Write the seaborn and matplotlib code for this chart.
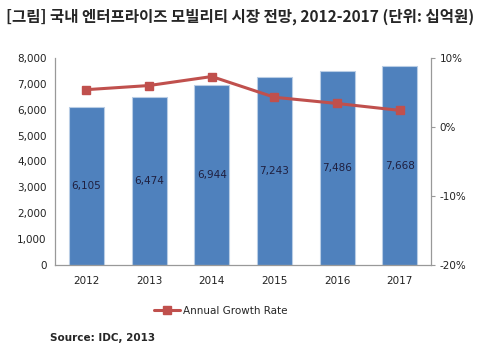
import matplotlib
matplotlib.use("Agg")
import matplotlib.pyplot as plt
import seaborn as sns
from matplotlib.ticker import FuncFormatter, PercentFormatter
from matplotlib.lines import Line2D

# data
years = ['2012', '2013', '2014', '2015', '2016', '2017']
market = [6105, 6474, 6944, 7243, 7486, 7668]
growth = [5.4, 6.0, 7.3, 4.3, 3.4, 2.4]

sns.set_style('white')
plt.rcParams['font.family'] = ['DejaVu Sans', 'Noto Sans CJK KR']
plt.rcParams['axes.unicode_minus'] = False

fig = plt.figure(figsize=(4.79, 3.53), dpi=100)
ax = fig.add_axes([0.115, 0.249, 0.785, 0.587])

sns.barplot(x=years, y=market, color='#4F81BD', saturation=1, width=0.56,
            edgecolor='#B9CDE5', linewidth=0.8, ax=ax)
for i, v in enumerate(market):
    ax.text(i, v / 2, f'{v:,}', ha='center', va='center', fontsize=7.5, color='#1F1F3F')

ax.set_ylim(0, 8000)
ax.set_yticks(range(0, 8001, 1000))
ax.yaxis.set_major_formatter(FuncFormatter(lambda v, p: f'{int(v):,}'))
ax.tick_params(axis='both', labelsize=7.5, length=0, colors='#222222', pad=6)
ax.tick_params(axis='x', pad=8)
for s in ['top', 'right']:
    ax.spines[s].set_visible(False)
for s in ['left', 'bottom']:
    ax.spines[s].set_color('#999999')
    ax.spines[s].set_linewidth(0.9)

ax2 = ax.twinx()
ax2.plot(range(len(years)), growth, color='#C0504D', marker='s', markersize=6, linewidth=2.2)
ax2.set_ylim(-20, 10)
ax2.set_yticks([-20, -10, 0, 10])
ax2.yaxis.set_major_formatter(PercentFormatter(decimals=0))
ax2.tick_params(axis='y', labelsize=7.5, length=3, direction='out', color='#999999',
                labelcolor='#222222', pad=3)
for s in ['top', 'left', 'bottom']:
    ax2.spines[s].set_visible(False)
ax2.spines['right'].set_color('#999999')
ax2.spines['right'].set_linewidth(0.9)
ax.set_xlim(-0.5, len(years) - 0.5)

handle = Line2D([], [], color='#C0504D', marker='s', markersize=6, linewidth=2.2)
fig.legend([handle], ['Annual Growth Rate'], loc='center', bbox_to_anchor=(0.46, 0.12),
           frameon=False, fontsize=7.5, handlelength=2.5, handletextpad=0.3)

fig.text(0.012, 0.952, '[그림] 국내 엔터프라이즈 모빌리티 시장 전망, 2012-2017 (단위: 십억원)',
         fontsize=11.2, fontweight='bold', family=['Noto Sans CJK KR', 'DejaVu Sans'],
         va='center')
fig.text(0.105, 0.043, 'Source: IDC, 2013', fontsize=7.5, fontweight='bold', va='center')

fig.savefig('out.png', dpi=100)
